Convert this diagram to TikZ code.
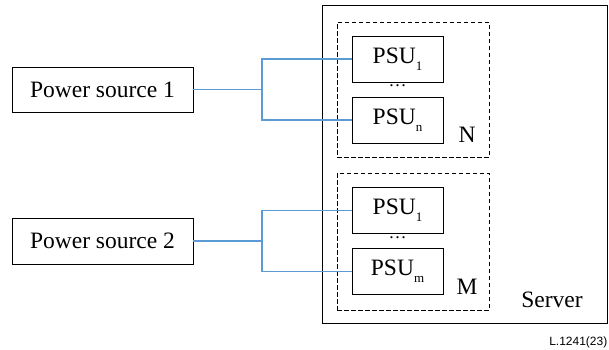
\documentclass[tikz,border=0pt]{standalone}
\usepackage{fontspec}
\setmainfont{Liberation Serif}
\newfontfamily\labelfont{Liberation Sans}
\definecolor{wire}{HTML}{5B9BD5}
\newcommand{\lowsub}[1]{\raisebox{-0.3em}{\fontsize{13}{14}\selectfont #1}}
\begin{document}
\begin{tikzpicture}[x=1pt,y=-1pt,
  box/.style={draw=black,line width=1pt,inner sep=0pt,outer sep=0pt,font=\fontsize{23.5}{25}\selectfont},
  grp/.style={draw=black,line width=1pt,dash pattern=on 4.5pt off 2.5pt,inner sep=0pt,outer sep=0pt},
  wirel/.style={draw=wire,line width=1.1pt},
  lbl/.style={inner sep=0pt,font=\fontsize{23.5}{25}\selectfont}]
\useasboundingbox (0,0) rectangle (609,349);
\node[box,minimum width=285.5pt,minimum height=318pt] (server) at (464.75,164) {};
\node[grp,minimum width=152pt,minimum height=135pt] (gN) at (413,89.5) {};
\node[grp,minimum width=152pt,minimum height=137pt] (gM) at (413,241.5) {};
\node[box,minimum width=181pt,minimum height=45pt] (ps1) at (102.5,89.5) {Power source 1};
\node[box,minimum width=181pt,minimum height=46pt] (ps2) at (102.5,241) {Power source 2};
\node[box,minimum width=91pt,minimum height=46pt] (a1) at (397.5,59) {PSU\lowsub{1}};
\node[box,minimum width=91pt,minimum height=46pt] (an) at (397.5,120) {PSU\lowsub{n}};
\node[box,minimum width=91pt,minimum height=46pt] (b1) at (397.5,210.5) {PSU\lowsub{1}};
\node[box,minimum width=91pt,minimum height=46pt] (bm) at (397.5,271.5) {PSU\lowsub{m}};
\node[lbl,font=\fontsize{18}{20}\selectfont] (d1) at (397.5,86) {\dots};
\node[lbl,font=\fontsize{18}{20}\selectfont] (d2) at (397.5,238) {\dots};
\node[lbl] (nN) at (467,135) {N};
\node[lbl] (nM) at (467,287) {M};
\node[lbl] (ns) at (552,300) {Server};
\node[inner sep=0pt,anchor=east,font=\labelfont\fontsize{12}{14}\selectfont] (code) at (607.5,342) {L.1241(23)};
\coordinate (j1) at (262,89.5);
\coordinate (j2) at (262,241);
\draw[wirel] (ps1.east) -- (j1) |- (a1.west);
\draw[wirel] (j1) |- (an.west);
\draw[wirel] (ps2.east) -- (j2) |- (b1.west);
\draw[wirel] (j2) |- (bm.west);
\end{tikzpicture}
\end{document}
